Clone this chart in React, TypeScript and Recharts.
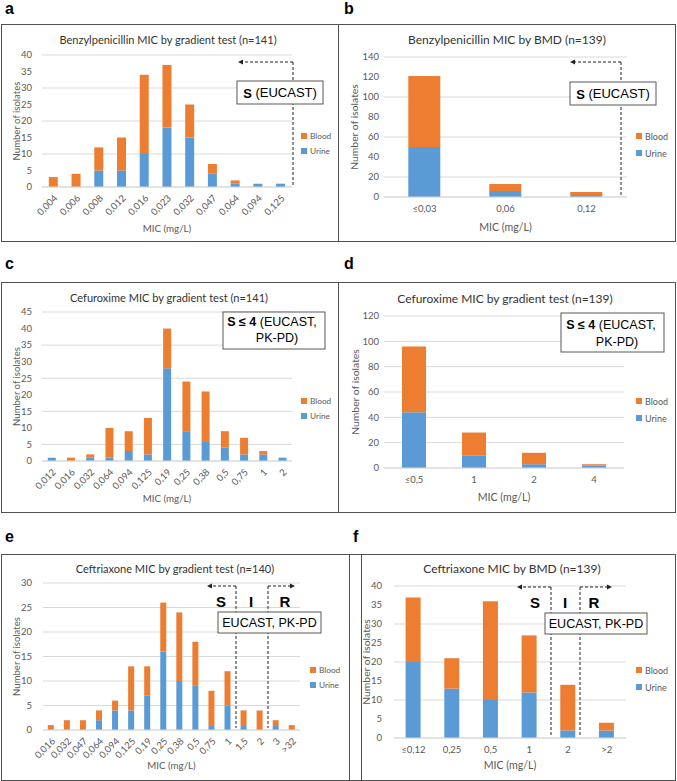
import React from 'react';
import { BarChart, Bar, XAxis, YAxis, CartesianGrid } from 'recharts';

// ---------- DATA ----------
const aCats = ['0,004', '0,006', '0,008', '0,012', '0,016', '0,023', '0,032', '0,047', '0,064', '0,094', '0,125'];
const aUrine = [0, 0, 5, 5, 10, 18, 15, 4, 1, 1, 1];
const aBlood = [3, 4, 7, 10, 24, 19, 10, 3, 1, 0, 0];
const aTicks = [0, 5, 10, 15, 20, 25, 30, 35, 40];

const bCats = ['≤0,03', '0,06', '0,12'];
const bUrine = [50, 6, 2];
const bBlood = [71, 7, 3];
const bTicks = [0, 20, 40, 60, 80, 100, 120, 140];

const cCats = ['0,012', '0,016', '0,032', '0,064', '0,094', '0,125', '0,19', '0,25', '0,38', '0,5', '0,75', '1', '2'];
const cUrine = [1, 0, 1, 1, 3, 2, 28, 9, 6, 4, 2, 2, 1];
const cBlood = [0, 1, 1, 9, 6, 11, 12, 15, 15, 5, 5, 1, 0];
const cTicks = [0, 5, 10, 15, 20, 25, 30, 35, 40, 45];

const dCats = ['≤0,5', '1', '2', '4'];
const dUrine = [44, 10, 3, 2];
const dBlood = [52, 18, 9, 1];
const dTicks = [0, 20, 40, 60, 80, 100, 120];

const eCats = ['0,016', '0,032', '0,047', '0,064', '0,094', '0,125', '0,19', '0,25', '0,38', '0,5', '0,75', '1', '1,5', '2', '3', '>32'];
const eUrine = [0, 0, 0, 2, 4, 4, 7, 16, 10, 9, 1, 5, 1, 0, 1, 0];
const eBlood = [1, 2, 2, 2, 2, 9, 6, 10, 14, 9, 7, 7, 3, 4, 1, 1];
const eTicks = [0, 5, 10, 15, 20, 25, 30];

const fCats = ['≤0,12', '0,25', '0,5', '1', '2', '>2'];
const fUrine = [20, 13, 10, 12, 2, 2];
const fBlood = [17, 8, 26, 15, 12, 2];
const fTicks = [0, 5, 10, 15, 20, 25, 30, 35, 40];

const seriesNames = ['Blood', 'Urine'];
const xTitle = 'MIC (mg/L)';
const yTitle = 'Number of isolates';

// ---------- STYLE ----------
const BLUE = '#5B9BD5';
const ORANGE = '#ED7D31';
const GRID = '#D9D9D9';
const TXT = '#595959';
const FONT = 'Lato, "Open Sans", sans-serif';
const ARIAL = '"Liberation Sans", Arial, sans-serif';

type Row = { cat: string; Urine: number; Blood: number };
const rows = (cats: string[], u: number[], b: number[]): Row[] =>
  cats.map((c, i) => ({ cat: c, Urine: u[i], Blood: b[i] }));

const DashV = ({ x, y1, y2 }: { x: number; y1: number; y2: number }) => (
  <line x1={x} y1={y1} x2={x} y2={y2} stroke="#222" strokeWidth={1} strokeDasharray="3 2" />
);
const DashArrow = ({ x1, x2, y }: { x1: number; x2: number; y: number }) => {
  const d = x2 > x1 ? 1 : -1;
  return (
    <g>
      <line x1={x1} y1={y} x2={x2 - d * 4} y2={y} stroke="#222" strokeWidth={1} strokeDasharray="3 2" />
      <polygon points={`${x2},${y} ${x2 - d * 5},${y - 2.5} ${x2 - d * 5},${y + 2.5}`} fill="#222" />
    </g>
  );
};
const Box = ({ x, y, w, h }: { x: number; y: number; w: number; h: number }) => (
  <rect x={x} y={y} width={w} height={h} fill="#fff" stroke="#595959" strokeWidth={1} />
);
const SIR = ({ xs, y }: { xs: number[]; y: number }) => (
  <g fontFamily={ARIAL} fontWeight="bold" fontSize={15} fill="#000" textAnchor="middle">
    {['S', 'I', 'R'].map((t, i) => (
      <text key={t} x={xs[i]} y={y} dominantBaseline="central">{t}</text>
    ))}
  </g>
);
const BoxText1 = ({ x, y }: { x: number; y: number }) => (
  <text x={x} y={y} fontFamily={ARIAL} fontSize={13} fill="#000" textAnchor="middle" dominantBaseline="central">
    <tspan fontWeight="bold">S</tspan> (EUCAST)
  </text>
);
const BoxText2 = ({ x1, y1, x2, y2 }: { x1: number; y1: number; x2: number; y2: number }) => (
  <g fontFamily={ARIAL} fontSize={12.5} fill="#000" textAnchor="middle">
    <text x={x1} y={y1} dominantBaseline="central">
      <tspan fontWeight="bold">S ≤ 4</tspan> (EUCAST,
    </text>
    <text x={x2} y={y2} dominantBaseline="central">PK-PD)</text>
  </g>
);
const BoxText3 = ({ x, y }: { x: number; y: number }) => (
  <text x={x} y={y} fontFamily={ARIAL} fontSize={12.5} fill="#000" textAnchor="middle" dominantBaseline="central">
    EUCAST, PK-PD
  </text>
);

interface PanelSpec {
  left: number; top: number; width: number; height: number;
  plotLeft: number; plotTop: number; plotRight: number; plotBottom: number;
  data: Row[]; ticks: number[]; rotate: boolean; yGap: number; s: number;
  title: string; titleX: number; titleY: number;
  xTitleY: number; yTitleX: number;
  legendX: number; legendY1: number; legendY2: number;
  overlay: React.ReactNode;
}

const Panel = (p: PanelSpec) => {
  const yMax = p.ticks[p.ticks.length - 1];
  const tickStyle = { fontSize: 9.5, fill: TXT, fontFamily: FONT };
  const xTitleX = (p.plotLeft + p.plotRight) / 2;
  const yTitleY = (p.plotTop + p.plotBottom) / 2;
  return (
    <div style={{ position: 'absolute', left: p.left, top: p.top, width: p.width, height: p.height, background: '#fff' }}>
      <div style={{ position: 'absolute', left: 0, top: 0 }}>
        <BarChart
          width={p.width}
          height={p.height}
          data={p.data}
          margin={{ top: p.plotTop, right: p.width - p.plotRight, bottom: 0, left: 0 }}
          barCategoryGap="30%"
        >
          <CartesianGrid vertical={false} stroke={GRID} />
          <XAxis
            dataKey="cat"
            interval={0}
            tickLine={false}
            axisLine={{ stroke: GRID }}
            height={p.height - p.plotBottom}
            tick={p.rotate ? { ...tickStyle, angle: -45, textAnchor: 'end' } : tickStyle}
            tickMargin={p.rotate ? 1 : 2}
          />
          <YAxis
            width={p.plotLeft}
            domain={[0, yMax]}
            ticks={p.ticks}
            tickLine={false}
            axisLine={false}
            tick={tickStyle}
            tickMargin={p.yGap - 6}
          />
          <Bar dataKey="Urine" stackId="s" fill={BLUE} isAnimationActive={false} />
          <Bar dataKey="Blood" stackId="s" fill={ORANGE} isAnimationActive={false} />
        </BarChart>
      </div>
      <svg width={p.width} height={p.height} style={{ position: 'absolute', left: 0, top: 0, pointerEvents: 'none' }}>
        <text x={p.titleX} y={p.titleY} fontFamily={FONT} fontSize={12 * p.s} fill="#333" textAnchor="middle" dominantBaseline="central">
          {p.title}
        </text>
        <text x={xTitleX} y={p.xTitleY} fontFamily={FONT} fontSize={10.6 * p.s} fill={TXT} textAnchor="middle" dominantBaseline="central">
          {xTitle}
        </text>
        <text
          x={p.yTitleX}
          y={yTitleY}
          fontFamily={FONT}
          fontSize={10.4 * p.s}
          fill={TXT}
          textAnchor="middle"
          dominantBaseline="central"
          transform={`rotate(-90 ${p.yTitleX} ${yTitleY})`}
        >
          {yTitle}
        </text>
        {seriesNames.map((n, i) => {
          const y = i === 0 ? p.legendY1 : p.legendY2;
          return (
            <g key={n}>
              <rect x={p.legendX - 3} y={y - 3} width={6} height={6} fill={n === 'Blood' ? ORANGE : BLUE} />
              <text x={p.legendX + 6} y={y} fontFamily={FONT} fontSize={9 * p.s} fill={TXT} dominantBaseline="central">{n}</text>
            </g>
          );
        })}
        {p.overlay}
      </svg>
    </div>
  );
};

const Border = ({ l, t, w, h }: { l: number; t: number; w: number; h: number }) => (
  <div style={{ position: 'absolute', left: l, top: t, width: w, height: h, border: '1px solid #505050', boxSizing: 'border-box', pointerEvents: 'none' }} />
);

const Letter = ({ ch, x, y }: { ch: string; x: number; y: number }) => (
  <div style={{ position: 'absolute', left: x, top: y, fontFamily: ARIAL, fontWeight: 'bold', fontSize: 16, lineHeight: '16px', color: '#000' }}>{ch}</div>
);

export default function App() {
  const panels: (PanelSpec & { key: string })[] = [
    {
      key: 'a', left: 1, top: 24, width: 337, height: 218,
      plotLeft: 41, plotTop: 31, plotRight: 291, plotBottom: 163,
      data: rows(aCats, aUrine, aBlood), ticks: aTicks, rotate: true, yGap: 10, s: 0.92,
      title: 'Benzylpenicillin MIC by gradient test (n=141)', titleX: 167, titleY: 15,
      xTitleY: 204, yTitleX: 15, legendX: 303, legendY1: 112, legendY2: 127,
      overlay: (
        <g>
          <DashV x={292} y1={38} y2={161} />
          <DashArrow x1={292} x2={237} y={38} />
          <Box x={236} y={57} w={86} h={23} />
          <BoxText1 x={279} y={68.5} />
        </g>
      ),
    },
    {
      key: 'b', left: 338, top: 24, width: 337, height: 218,
      plotLeft: 46, plotTop: 33, plotRight: 289, plotBottom: 173,
      data: rows(bCats, bUrine, bBlood), ticks: bTicks, rotate: false, yGap: 5, s: 1,
      title: 'Benzylpenicillin MIC by BMD (n=139)', titleX: 169, titleY: 15,
      xTitleY: 203, yTitleX: 16, legendX: 301, legendY1: 112, legendY2: 129,
      overlay: (
        <g>
          <DashV x={283} y1={38} y2={173} />
          <DashArrow x1={283} x2={232} y={38} />
          <Box x={232} y={58} w={86} h={23} />
          <BoxText1 x={275} y={69.5} />
        </g>
      ),
    },
    {
      key: 'c', left: 1, top: 282, width: 337, height: 231,
      plotLeft: 41, plotTop: 30, plotRight: 291, plotBottom: 179,
      data: rows(cCats, cUrine, cBlood), ticks: cTicks, rotate: true, yGap: 10, s: 0.92,
      title: 'Cefuroxime MIC by gradient test (n=141)', titleX: 168, titleY: 15,
      xTitleY: 216, yTitleX: 15, legendX: 303, legendY1: 119, legendY2: 134,
      overlay: (
        <g>
          <Box x={222} y={30} w={102} h={37} />
          <BoxText2 x1={271} y1={40} x2={276} y2={56} />
        </g>
      ),
    },
    {
      key: 'd', left: 338, top: 282, width: 337, height: 231,
      plotLeft: 46, plotTop: 34, plotRight: 286, plotBottom: 186,
      data: rows(dCats, dUrine, dBlood), ticks: dTicks, rotate: false, yGap: 5, s: 1,
      title: 'Cefuroxime MIC by gradient test (n=139)', titleX: 167, titleY: 16,
      xTitleY: 215, yTitleX: 17, legendX: 301, legendY1: 119, legendY2: 136,
      overlay: (
        <g>
          <Box x={223} y={31} w={103} h={39} />
          <BoxText2 x1={273} y1={43} x2={279} y2={60} />
        </g>
      ),
    },
    {
      key: 'e', left: 1, top: 554, width: 360, height: 227,
      plotLeft: 42, plotTop: 29, plotRight: 299, plotBottom: 176,
      data: rows(eCats, eUrine, eBlood), ticks: eTicks, rotate: true, yGap: 11, s: 0.92,
      title: 'Ceftriaxone MIC by gradient test (n=140)', titleX: 174, titleY: 14,
      xTitleY: 211, yTitleX: 15, legendX: 312, legendY1: 116, legendY2: 131,
      overlay: (
        <g>
          <DashV x={235} y1={32} y2={174} />
          <DashV x={267} y1={32} y2={174} />
          <DashArrow x1={235} x2={206} y={32} />
          <DashArrow x1={267} x2={294} y={32} />
          <SIR xs={[220, 250, 284]} y={47} />
          <Box x={217} y={58} w={103} h={21} />
          <BoxText3 x={268.5} y={68.5} />
        </g>
      ),
    },
    {
      key: 'f', left: 349, top: 554, width: 326, height: 227,
      plotLeft: 45, plotTop: 32, plotRight: 277, plotBottom: 184,
      data: rows(fCats, fUrine, fBlood), ticks: fTicks, rotate: false, yGap: 12, s: 1,
      title: 'Ceftriaxone MIC by BMD (n=139)', titleX: 163, titleY: 14,
      xTitleY: 211, yTitleX: 17, legendX: 290, legendY1: 116, legendY2: 133,
      overlay: (
        <g>
          <DashV x={202} y1={33} y2={183} />
          <DashV x={231} y1={33} y2={183} />
          <DashArrow x1={202} x2={168} y={33} />
          <DashArrow x1={231} x2={263} y={33} />
          <SIR xs={[186, 216, 245]} y={48} />
          <Box x={196} y={59} w={102} h={21} />
          <BoxText3 x={247} y={69.5} />
        </g>
      ),
    },
  ];

  return (
    <div style={{ position: 'absolute', left: 0, top: 0, width: 677, height: 781, background: '#fff', overflow: 'hidden' }}>
      {panels.map(({ key, ...p }) => (
        <Panel key={key} {...p} />
      ))}
      {panels.map(({ key, left, top, width, height }) => (
        <Border key={'b' + key} l={left} t={top} w={width + 1} h={height} />
      ))}
      <Letter ch="a" x={5} y={1} />
      <Letter ch="b" x={344} y={1} />
      <Letter ch="c" x={5} y={256} />
      <Letter ch="d" x={344} y={256} />
      <Letter ch="e" x={5} y={529} />
      <Letter ch="f" x={353} y={529} />
    </div>
  );
}
